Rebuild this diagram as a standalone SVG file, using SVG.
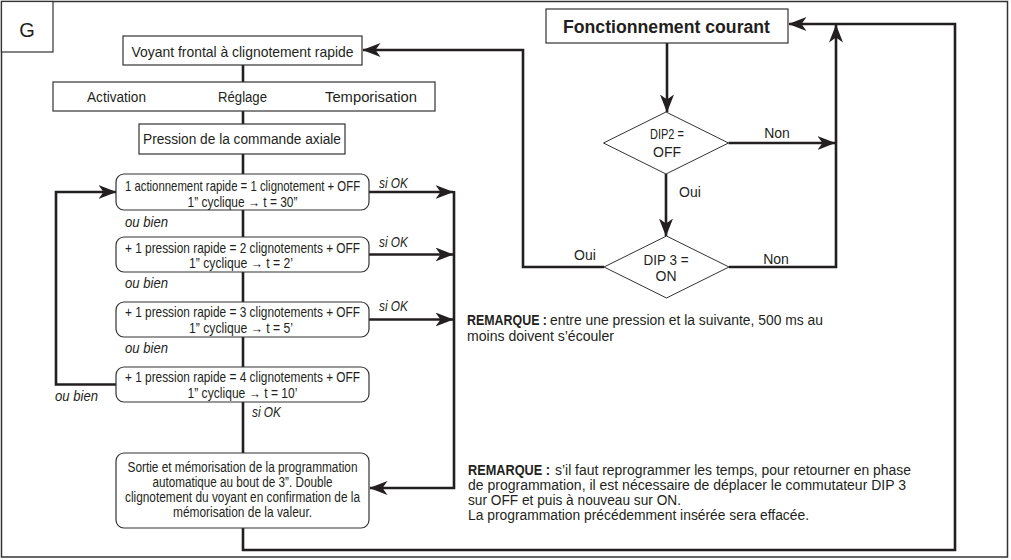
<svg xmlns="http://www.w3.org/2000/svg" width="1011" height="560" viewBox="0 0 1011 560">
<style>
text{font-family:"Liberation Sans",Arial,sans-serif;fill:#231f20;font-size:14px}
.c{text-anchor:middle}
.i{font-style:italic}
.b{font-weight:bold}
.box{fill:#fff;stroke:#333;stroke-width:1.2}
.dia{fill:#fff;stroke:#333;stroke-width:1}
.ln{fill:none;stroke:#231f20;stroke-width:2.6}
</style>
<defs>
<marker id="ah" viewBox="0 0 18 14" refX="17.5" refY="7" markerWidth="18" markerHeight="14" markerUnits="userSpaceOnUse" orient="auto">
<path d="M0,0 L18,7 L0,14 L5,7 z" fill="#231f20"/>
</marker>
</defs>
<rect x="1.5" y="1.5" width="1006" height="555.5" fill="#fff" stroke="#333" stroke-width="1.5"/>
<g id="label-g">
<rect x="1.5" y="1.5" width="51.5" height="50.5" fill="#fff" stroke="#333" stroke-width="1.2"/>
<text x="27" y="37" class="c" style="font-size:20px">G</text>
</g>
<g id="connectors">
<path class="ln" d="M243,65 V82"/>
<path class="ln" d="M243,111 V124"/>
<path class="ln" d="M243,154 V174"/>
<path class="ln" d="M243,210 V237"/>
<path class="ln" d="M243,272 V302"/>
<path class="ln" d="M243,337 V367"/>
<path class="ln" d="M243,402 V453"/>
<path class="ln" d="M243,528 V550 H955 V24 H789" marker-end="url(#ah)"/>
<path class="ln" d="M667,43 V112" marker-end="url(#ah)"/>
<path class="ln" d="M728.5,143 H835" marker-end="url(#ah)"/>
<path class="ln" d="M666,174 V236" marker-end="url(#ah)"/>
<path class="ln" d="M604,267 H523 V50 H363" marker-end="url(#ah)"/>
<path class="ln" d="M729,267 H836 V25" marker-end="url(#ah)"/>
<path class="ln" d="M369,192 H453" marker-end="url(#ah)"/>
<path class="ln" d="M369,254.5 H453" marker-end="url(#ah)"/>
<path class="ln" d="M369,319.5 H453" marker-end="url(#ah)"/>
<path class="ln" d="M454,191 V488 H370" marker-end="url(#ah)"/>
<path class="ln" d="M116,384.5 H56 V192 H116" marker-end="url(#ah)"/>
</g>
<g id="voyant">
<rect class="box" x="123" y="36" width="239" height="29"/>
<text x="242.5" y="56.5" class="c" style="font-size:15px" textLength="222" lengthAdjust="spacingAndGlyphs">Voyant frontal à clignotement rapide</text>
</g>
<g id="modes">
<rect class="box" x="53" y="82" width="382" height="29"/>
<text x="87" y="102" textLength="59" lengthAdjust="spacingAndGlyphs">Activation</text>
<text x="218" y="102" textLength="49" lengthAdjust="spacingAndGlyphs">Réglage</text>
<text x="325" y="102" textLength="92" lengthAdjust="spacingAndGlyphs">Temporisation</text>
</g>
<g id="pression">
<rect class="box" x="139" y="124" width="206" height="30"/>
<text x="242" y="144" class="c" textLength="198" lengthAdjust="spacingAndGlyphs">Pression de la commande axiale</text>
</g>
<g id="step1">
<rect class="box" x="116" y="174" width="253" height="36" rx="8"/>
<text transform="translate(242.5,191) scale(0.8,1)" class="c" textLength="294" lengthAdjust="spacingAndGlyphs">1 actionnement rapide = 1 clignotement + OFF</text>
<text x="242.5" y="207" class="c" textLength="110" lengthAdjust="spacingAndGlyphs">1” cyclique → t = 30”</text>
</g>
<g id="step2">
<rect class="box" x="116" y="237" width="253" height="35" rx="8"/>
<text transform="translate(242.5,253) scale(0.8,1)" class="c" textLength="294" lengthAdjust="spacingAndGlyphs">+ 1 pression rapide = 2 clignotements + OFF</text>
<text x="241" y="268" class="c" textLength="104" lengthAdjust="spacingAndGlyphs">1” cyclique → t = 2’</text>
</g>
<g id="step3">
<rect class="box" x="116" y="302" width="253" height="35" rx="8"/>
<text transform="translate(242.5,317) scale(0.8,1)" class="c" textLength="294" lengthAdjust="spacingAndGlyphs">+ 1 pression rapide = 3 clignotements + OFF</text>
<text x="241" y="333" class="c" textLength="104" lengthAdjust="spacingAndGlyphs">1” cyclique → t = 5’</text>
</g>
<g id="step4">
<rect class="box" x="116" y="367" width="253" height="35" rx="8"/>
<text transform="translate(242.5,382) scale(0.8,1)" class="c" textLength="294" lengthAdjust="spacingAndGlyphs">+ 1 pression rapide = 4 clignotements + OFF</text>
<text x="242.5" y="398" class="c" textLength="110" lengthAdjust="spacingAndGlyphs">1” cyclique → t = 10’</text>
</g>
<g id="sortie">
<rect class="box" x="116" y="453" width="253" height="75" rx="8"/>
<text x="242.5" y="472" class="c" textLength="230" lengthAdjust="spacingAndGlyphs">Sortie et mémorisation de la programmation</text>
<text x="242.5" y="487" class="c" textLength="180" lengthAdjust="spacingAndGlyphs">automatique au bout de 3”. Double</text>
<text x="242.5" y="502" class="c" textLength="235" lengthAdjust="spacingAndGlyphs">clignotement du voyant en confirmation de la</text>
<text x="242.5" y="517" class="c" textLength="139" lengthAdjust="spacingAndGlyphs">mémorisation de la valeur.</text>
</g>
<g id="labels-left">
<text x="125" y="227" class="i" textLength="43" lengthAdjust="spacingAndGlyphs">ou bien</text>
<text x="125" y="288" class="i" textLength="43" lengthAdjust="spacingAndGlyphs">ou bien</text>
<text x="125" y="353" class="i" textLength="43" lengthAdjust="spacingAndGlyphs">ou bien</text>
<text x="55" y="401" class="i" textLength="43" lengthAdjust="spacingAndGlyphs">ou bien</text>
<text x="379" y="188" class="i" textLength="29" lengthAdjust="spacingAndGlyphs">si OK</text>
<text x="379" y="247" class="i" textLength="29" lengthAdjust="spacingAndGlyphs">si OK</text>
<text x="379" y="311" class="i" textLength="29" lengthAdjust="spacingAndGlyphs">si OK</text>
<text x="252" y="417" class="i" textLength="29" lengthAdjust="spacingAndGlyphs">si OK</text>
</g>
<g id="fonctionnement">
<rect class="box" x="546" y="9" width="242" height="34"/>
<text x="666.5" y="33" class="c b" style="font-size:18px" textLength="207" lengthAdjust="spacingAndGlyphs">Fonctionnement courant</text>
</g>
<g id="dip2">
<polygon class="dia" points="666,112 728.5,143 666,174 603.5,143"/>
<text x="667" y="139" class="c" textLength="34" lengthAdjust="spacingAndGlyphs">DIP2 =</text>
<text x="667" y="157" class="c">OFF</text>
</g>
<g id="dip3">
<polygon class="dia" points="666.5,236 729,267 666.5,298 604,267"/>
<text x="666" y="265" class="c" textLength="45" lengthAdjust="spacingAndGlyphs">DIP 3 =</text>
<text x="666" y="281" class="c">ON</text>
</g>
<g id="labels-right">
<text x="777" y="138" class="c">Non</text>
<text x="690" y="197" class="c">Oui</text>
<text x="585" y="260" class="c">Oui</text>
<text x="776" y="264" class="c">Non</text>
</g>
<g id="remarque1">
<text x="467" y="325" class="b" textLength="80" lengthAdjust="spacingAndGlyphs">REMARQUE :</text>
<text x="550" y="325" textLength="273" lengthAdjust="spacingAndGlyphs">entre une pression et la suivante, 500 ms au</text>
<text x="467" y="341" textLength="147" lengthAdjust="spacingAndGlyphs">moins doivent s’écouler</text>
</g>
<g id="remarque2">
<text x="468" y="475" class="b" textLength="82" lengthAdjust="spacingAndGlyphs">REMARQUE :</text>
<text x="555" y="475" textLength="356" lengthAdjust="spacingAndGlyphs">s’il faut reprogrammer les temps, pour retourner en phase</text>
<text x="468" y="490" textLength="438" lengthAdjust="spacingAndGlyphs">de programmation, il est nécessaire de déplacer le commutateur DIP 3</text>
<text x="468" y="505" textLength="213" lengthAdjust="spacingAndGlyphs">sur OFF et puis à nouveau sur ON.</text>
<text x="468" y="520" textLength="341" lengthAdjust="spacingAndGlyphs">La programmation précédemment insérée sera effacée.</text>
</g>
</svg>
